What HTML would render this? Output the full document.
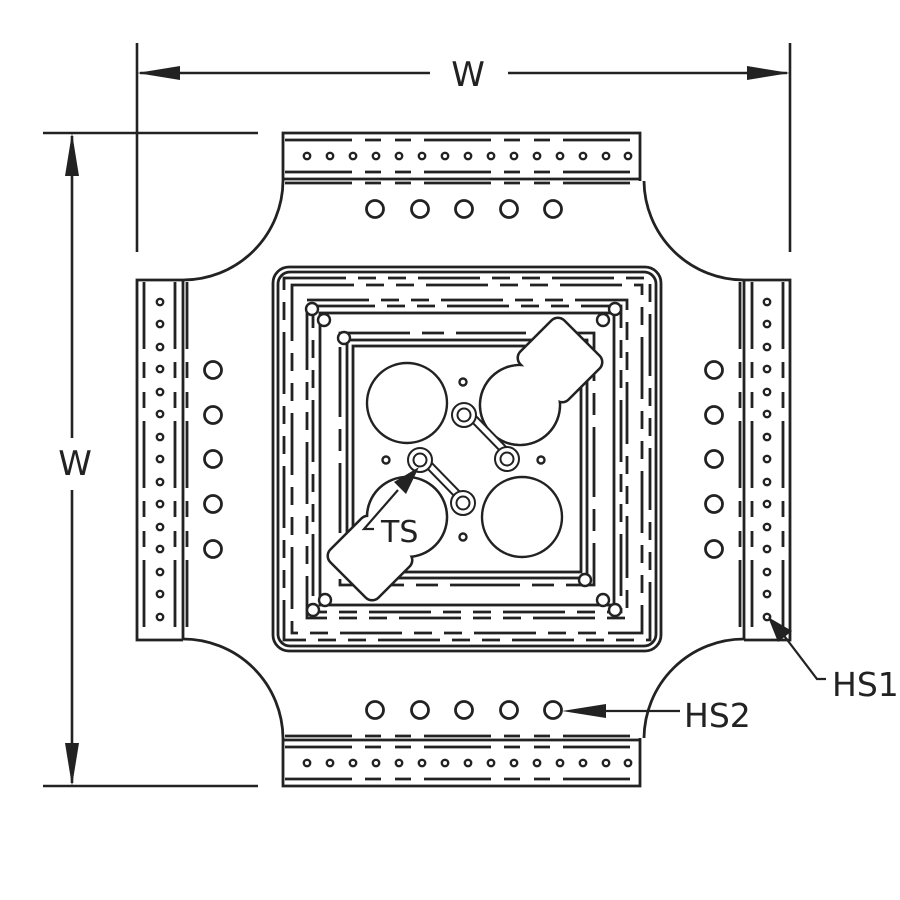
<!DOCTYPE html>
<html><head><meta charset="utf-8"><style>
html,body{margin:0;padding:0;background:#fff;}
svg{display:block;}
text{font-family:"DejaVu Sans","Liberation Sans",sans-serif;fill:#222;}
</style></head><body>
<svg width="900" height="900" viewBox="0 0 900 900" xmlns="http://www.w3.org/2000/svg">
<defs>
  <g id="topflange" fill="none" stroke="#222" stroke-width="2.8">
    <path d="M283,181 V133 H640 V181"/>
    <line x1="283" y1="179" x2="640" y2="179"/>
    <line x1="285" y1="140" x2="640" y2="140" stroke-dasharray="67 13 16 14 16 13"/>
    <line x1="285" y1="172" x2="640" y2="172" stroke-dasharray="67 13 16 14 16 13"/>
    <line x1="285" y1="183" x2="640" y2="183" stroke-dasharray="67 13 16 14 16 13"/>
    <g stroke-width="2.4">
      <circle cx="307" cy="156" r="3.2"/><circle cx="330" cy="156" r="3.2"/><circle cx="353" cy="156" r="3.2"/><circle cx="376" cy="156" r="3.2"/><circle cx="399" cy="156" r="3.2"/><circle cx="422" cy="156" r="3.2"/><circle cx="445" cy="156" r="3.2"/><circle cx="468" cy="156" r="3.2"/><circle cx="491" cy="156" r="3.2"/><circle cx="514" cy="156" r="3.2"/><circle cx="537" cy="156" r="3.2"/><circle cx="560" cy="156" r="3.2"/><circle cx="583" cy="156" r="3.2"/><circle cx="606" cy="156" r="3.2"/><circle cx="628" cy="156" r="3.2"/>
    </g>
    <circle cx="375" cy="209" r="8.5"/><circle cx="420" cy="209" r="8.5"/><circle cx="464" cy="209" r="8.5"/><circle cx="509" cy="209" r="8.5"/><circle cx="553" cy="209" r="8.5"/>
  </g>
  <g id="leftflange" fill="none" stroke="#222" stroke-width="2.8">
    <path d="M183,280 H137 V640 H183"/>
    <line x1="183" y1="280" x2="183" y2="640"/>
    <line x1="144" y1="282" x2="144" y2="640" stroke-dasharray="67 13 16 14 16 13"/>
    <line x1="175" y1="282" x2="175" y2="640" stroke-dasharray="67 13 16 14 16 13"/>
    <line x1="187" y1="282" x2="187" y2="640" stroke-dasharray="67 13 16 14 16 13"/>
    <g stroke-width="2.4">
      <circle cx="160" cy="302" r="3.2"/><circle cx="160" cy="324" r="3.2"/><circle cx="160" cy="347" r="3.2"/><circle cx="160" cy="369" r="3.2"/><circle cx="160" cy="392" r="3.2"/><circle cx="160" cy="414" r="3.2"/><circle cx="160" cy="437" r="3.2"/><circle cx="160" cy="459" r="3.2"/><circle cx="160" cy="482" r="3.2"/><circle cx="160" cy="504" r="3.2"/><circle cx="160" cy="527" r="3.2"/><circle cx="160" cy="549" r="3.2"/><circle cx="160" cy="572" r="3.2"/><circle cx="160" cy="594" r="3.2"/><circle cx="160" cy="617" r="3.2"/>
    </g>
    <circle cx="213" cy="370" r="8.5"/><circle cx="213" cy="415" r="8.5"/><circle cx="213" cy="459" r="8.5"/><circle cx="213" cy="504" r="8.5"/><circle cx="213" cy="549" r="8.5"/>
  </g>
  <path id="arc" d="M283,181 A100,100 0 0 1 183,280" fill="none" stroke="#222" stroke-width="2.8"/>
</defs>

<g stroke="#222" stroke-width="2.6" fill="none">
  <line x1="137" y1="43" x2="137" y2="252"/>
  <line x1="790" y1="43" x2="790" y2="252"/>
  <line x1="140" y1="73" x2="430" y2="73"/>
  <line x1="508" y1="73" x2="787" y2="73"/>
  <line x1="43" y1="133" x2="258" y2="133"/>
  <line x1="43" y1="786" x2="258" y2="786"/>
  <line x1="72" y1="136" x2="72" y2="438"/>
  <line x1="72" y1="490" x2="72" y2="783"/>
</g>
<g fill="#222">
  <polygon points="137,73 180,66 180,80"/>
  <polygon points="790,73 747,66 747,80"/>
  <polygon points="72,133 65,176 79,176"/>
  <polygon points="72,786 65,743 79,743"/>
</g>
<text x="468" y="86" font-size="34" text-anchor="middle">W</text>
<text x="75" y="475" font-size="34" text-anchor="middle">W</text>

<use href="#topflange"/>
<use href="#topflange" transform="translate(0,919) scale(1,-1)"/>
<use href="#leftflange"/>
<use href="#leftflange" transform="translate(927,0) scale(-1,1)"/>
<use href="#arc"/>
<use href="#arc" transform="translate(927,0) scale(-1,1)"/>
<use href="#arc" transform="translate(0,919) scale(1,-1)"/>
<use href="#arc" transform="translate(927,919) scale(-1,-1)"/>

<g fill="none" stroke="#222" stroke-width="2.8">
  <rect x="273" y="267" width="388" height="384" rx="16"/>
  <rect x="278" y="272" width="378" height="374" rx="12"/>
  <rect x="284" y="278" width="366" height="362" stroke-dasharray="62 12 18 12 18 12"/>
  <rect x="292" y="285" width="350" height="348" stroke-dasharray="62 12 18 12 18 12"/>
  <rect x="307" y="300" width="320" height="318" stroke-dasharray="62 12 18 12 18 12"/>
  <rect x="313" y="306" width="308" height="306" stroke-dasharray="62 12 18 12 18 12"/>
  <rect x="320" y="313" width="294" height="292"/>
  <rect x="340" y="333" width="254" height="252" stroke-dasharray="70 12 22 12"/>
  <rect x="347" y="340" width="240" height="238"/>
  <rect x="353" y="346" width="228" height="226"/>
</g>
<g fill="#fff" stroke="#222" stroke-width="2.4">
  <circle cx="312" cy="309" r="6"/><circle cx="324" cy="320" r="6"/><circle cx="344" cy="338" r="6"/>
  <circle cx="615" cy="309" r="6"/><circle cx="603" cy="320" r="6"/>
  <circle cx="313" cy="610" r="6"/><circle cx="325" cy="600" r="6"/>
  <circle cx="615" cy="610" r="6"/><circle cx="603" cy="600" r="6"/><circle cx="585" cy="580" r="6"/>
</g>

<g fill="#fff" stroke="#222" stroke-width="2.4">
  <rect x="356" y="349" width="222" height="220" stroke="none"/>
  <circle cx="407" cy="403" r="40"/>
  <circle cx="522" cy="517" r="40"/>
  <circle cx="463" cy="382" r="3.5" fill="none"/>
  <circle cx="386" cy="460" r="3.5" fill="none"/>
  <circle cx="541" cy="460" r="3.5" fill="none"/>
  <circle cx="463" cy="537" r="3.5" fill="none"/>
</g>
<g stroke="#222" stroke-width="2.6" fill="#fff">
  <circle cx="520" cy="405" r="40"/>
  <rect x="-31" y="-34" width="62" height="68" rx="9" transform="translate(560,360) rotate(-45)"/>
  <circle cx="407" cy="517" r="40"/>
  <rect x="-31" y="-34" width="62" height="68" rx="9" transform="translate(370,558) rotate(-45)"/>
</g>
<g fill="#fff" stroke="none">
  <circle cx="520" cy="405" r="38.7"/>
  <rect x="-29.7" y="-32.7" width="59.4" height="65.4" rx="8" transform="translate(560,360) rotate(-45)"/>
  <circle cx="407" cy="517" r="38.7"/>
  <rect x="-29.7" y="-32.7" width="59.4" height="65.4" rx="8" transform="translate(370,558) rotate(-45)"/>
</g>
<g stroke="#222" stroke-width="2" fill="#fff">
  <polygon points="468,418 473,413 510,451 505,456"/>
  <polygon points="422,463 427,458 464,496 459,501"/>
  <circle cx="464" cy="415" r="12"/><circle cx="464" cy="415" r="6.5"/>
  <circle cx="507" cy="459" r="12"/><circle cx="507" cy="459" r="6.5"/>
  <circle cx="420" cy="460" r="12"/><circle cx="420" cy="460" r="6.5"/>
  <circle cx="463" cy="503" r="12"/><circle cx="463" cy="503" r="6.5"/>
</g>

<g stroke="#222" stroke-width="2.2" fill="none">
  <polyline points="374,529 364,529 398,490"/>
</g>
<polygon points="419,467 394,482 406,494" fill="#222"/>
<text x="381" y="542" font-size="30">TS</text>

<polyline points="826,679 817,679 782,633" fill="none" stroke="#222" stroke-width="2.2"/>
<polygon points="768,617 778,642 792,631" fill="#222"/>
<text x="832" y="696" font-size="33">HS1</text>

<line x1="585" y1="711" x2="680" y2="711" stroke="#222" stroke-width="2.2"/>
<polygon points="562,711 606,704 606,718" fill="#222"/>
<text x="684" y="727" font-size="33">HS2</text>
</svg>
</body></html>
